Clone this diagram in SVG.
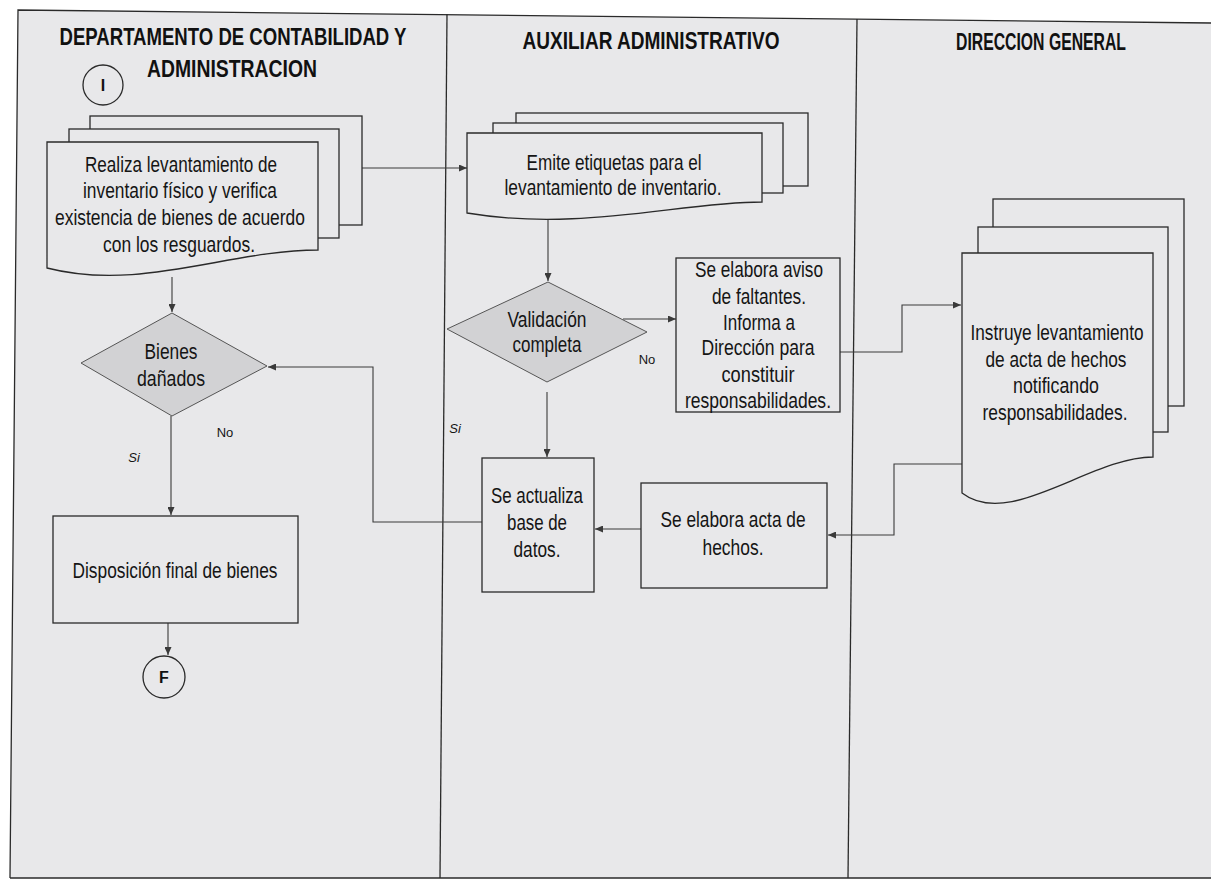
<svg xmlns="http://www.w3.org/2000/svg" width="1211" height="882" viewBox="0 0 1211 882">
<defs>
<marker id="arr" markerWidth="8" markerHeight="7" refX="8" refY="3.5" orient="auto" markerUnits="userSpaceOnUse">
<path d="M0,0 L8,3.5 L0,7 z" fill="#3a3a3a"/>
</marker>
</defs>
<style>
.frame{fill:none;stroke:#2a2a2a;stroke-width:1.3}
.hdr{font-family:"Liberation Sans",Arial,sans-serif;font-weight:bold;font-size:23px;fill:#111;text-anchor:middle}
.t{font-family:"Liberation Sans Narrow","Liberation Sans",Arial,sans-serif;font-size:22px;fill:#151515;text-anchor:middle}
.lbl{font-family:"Liberation Sans Narrow","Liberation Sans",Arial,sans-serif;font-size:13px;fill:#151515;text-anchor:middle}
.cl{font-family:"Liberation Sans",Arial,sans-serif;font-weight:bold;font-size:16px;fill:#111;text-anchor:middle}
.box{fill:#e8e8ea;stroke:#2a2a2a;stroke-width:1.3}
.dia{fill:#d2d2d4;stroke:#555;stroke-width:1}
.conn{fill:none;stroke:#3a3a3a;stroke-width:1.1;marker-end:url(#arr)}
</style>
<rect x="0" y="0" width="1211" height="882" fill="#ffffff"/>
<polygon points="18,10 1211,23 1211,878 10,878" fill="#e8e8ea"/>
<g id="lanes">
<polyline class="frame" points="10,878 18,10 1211,23"/>
<line class="frame" x1="10" y1="878" x2="1211" y2="878"/>
<line class="frame" x1="447" y1="14" x2="440" y2="878"/>
<line class="frame" x1="857" y1="19" x2="848" y2="878"/>
<text class="hdr" x="233" y="45" textLength="347" lengthAdjust="spacingAndGlyphs">DEPARTAMENTO DE CONTABILIDAD Y</text>
<text class="hdr" x="232" y="77" textLength="170" lengthAdjust="spacingAndGlyphs">ADMINISTRACION</text>
<text class="hdr" x="651" y="49" textLength="257" lengthAdjust="spacingAndGlyphs">AUXILIAR ADMINISTRATIVO</text>
<text class="hdr" x="1041" y="50" textLength="170" lengthAdjust="spacingAndGlyphs">DIRECCION GENERAL</text>
</g>
<g id="connectors">
<line class="conn" x1="172" y1="277" x2="172" y2="312"/>
<line class="conn" x1="362" y1="168" x2="467" y2="168"/>
<line class="conn" x1="548" y1="219" x2="548" y2="281"/>
<line class="conn" x1="623" y1="319" x2="676" y2="319"/>
<line class="conn" x1="547" y1="392" x2="547" y2="457"/>
<polyline class="conn" points="840,352 902,352 902,305 961,305"/>
<polyline class="conn" points="962,464 894,464 894,535 828,535"/>
<line class="conn" x1="641" y1="529" x2="595" y2="529"/>
<polyline class="conn" points="482,522 373,522 373,367 268,367"/>
<line class="conn" x1="171" y1="416" x2="171" y2="515"/>
<line class="conn" x1="168" y1="623" x2="168" y2="655"/>
<text class="lbl" x="225" y="437">No</text>
<text class="lbl" x="134" y="462" font-style="italic">Si</text>
<text class="lbl" x="647" y="364">No</text>
<text class="lbl" x="455" y="433" font-style="italic">Si</text>
</g>
<g id="start">
<circle class="box" cx="103" cy="85" r="20"/>
<text class="cl" x="103" y="91">I</text>
</g>
<g id="doc-levantamiento">
<rect class="box" x="90" y="116" width="272" height="109"/>
<rect class="box" x="69" y="129" width="270" height="109"/>
<path class="box" d="M47,142 H318 V250 C230,250 140,292 47,268 Z"/>
<text class="t" x="181" y="172" textLength="192" lengthAdjust="spacingAndGlyphs">Realiza levantamiento de</text>
<text class="t" x="180" y="198" textLength="194" lengthAdjust="spacingAndGlyphs">inventario físico y verifica</text>
<text class="t" x="180" y="225" textLength="250" lengthAdjust="spacingAndGlyphs">existencia de bienes de acuerdo</text>
<text class="t" x="179" y="252" textLength="152" lengthAdjust="spacingAndGlyphs">con los resguardos.</text>
</g>
<g id="doc-etiquetas">
<rect class="box" x="516" y="113" width="292" height="73"/>
<rect class="box" x="493" y="123" width="290" height="70"/>
<path class="box" d="M467,133 H762 V202 C680,202 580,232 467,213 Z"/>
<text class="t" x="614" y="170" textLength="175" lengthAdjust="spacingAndGlyphs">Emite etiquetas para el</text>
<text class="t" x="613" y="195" textLength="217" lengthAdjust="spacingAndGlyphs">levantamiento de inventario.</text>
</g>
<g id="dec-validacion">
<polygon class="dia" points="548,282 647,332 547,382 447,329"/>
<text class="t" x="547" y="327" textLength="79" lengthAdjust="spacingAndGlyphs">Validación</text>
<text class="t" x="547" y="352" textLength="69" lengthAdjust="spacingAndGlyphs">completa</text>
</g>
<g id="proc-aviso">
<rect class="box" x="676" y="258" width="164" height="154"/>
<text class="t" x="759" y="277" textLength="128" lengthAdjust="spacingAndGlyphs">Se elabora aviso</text>
<text class="t" x="759" y="304" textLength="94" lengthAdjust="spacingAndGlyphs">de faltantes.</text>
<text class="t" x="759" y="330" textLength="72" lengthAdjust="spacingAndGlyphs">Informa a</text>
<text class="t" x="758" y="355" textLength="113" lengthAdjust="spacingAndGlyphs">Dirección para</text>
<text class="t" x="758" y="382" textLength="73" lengthAdjust="spacingAndGlyphs">constituir</text>
<text class="t" x="758" y="408" textLength="146" lengthAdjust="spacingAndGlyphs">responsabilidades.</text>
</g>
<g id="doc-instruye">
<rect class="box" x="993" y="199" width="191" height="207"/>
<rect class="box" x="978" y="227" width="190" height="205"/>
<path class="box" d="M962,253 H1153 V457 C1090,457 1010,530 962,493 Z"/>
<text class="t" x="1057" y="340" textLength="173" lengthAdjust="spacingAndGlyphs">Instruye levantamiento</text>
<text class="t" x="1056" y="367" textLength="141" lengthAdjust="spacingAndGlyphs">de acta de hechos</text>
<text class="t" x="1056" y="393" textLength="86" lengthAdjust="spacingAndGlyphs">notificando</text>
<text class="t" x="1055" y="420" textLength="145" lengthAdjust="spacingAndGlyphs">responsabilidades.</text>
</g>
<g id="proc-acta">
<rect class="box" x="641" y="483" width="186" height="105"/>
<text class="t" x="733" y="527" textLength="145" lengthAdjust="spacingAndGlyphs">Se elabora acta de</text>
<text class="t" x="733" y="555" textLength="61" lengthAdjust="spacingAndGlyphs">hechos.</text>
</g>
<g id="proc-actualiza">
<rect class="box" x="482" y="458" width="112" height="134"/>
<text class="t" x="537" y="503" textLength="92" lengthAdjust="spacingAndGlyphs">Se actualiza</text>
<text class="t" x="537" y="530" textLength="60" lengthAdjust="spacingAndGlyphs">base de</text>
<text class="t" x="537" y="557" textLength="47" lengthAdjust="spacingAndGlyphs">datos.</text>
</g>
<g id="dec-bienes">
<polygon class="dia" points="172,313 267,366 172,416 81,363"/>
<text class="t" x="171" y="359" textLength="53" lengthAdjust="spacingAndGlyphs">Bienes</text>
<text class="t" x="171" y="386" textLength="68" lengthAdjust="spacingAndGlyphs">dañados</text>
</g>
<g id="proc-disposicion">
<rect class="box" x="53" y="516" width="245" height="107"/>
<text class="t" x="175" y="578" textLength="205" lengthAdjust="spacingAndGlyphs">Disposición final de bienes</text>
</g>
<g id="end">
<circle class="box" cx="164" cy="677" r="21"/>
<text class="cl" x="164" y="683">F</text>
</g>
</svg>
